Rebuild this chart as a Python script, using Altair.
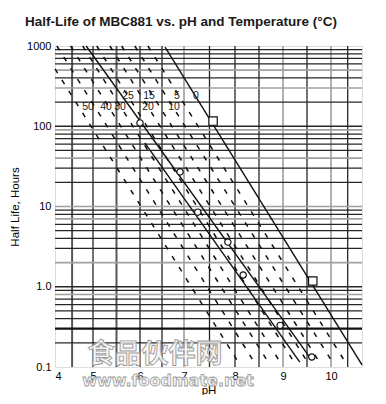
import altair as alt
import pandas as pd

# ---- axis values ----
ph_ticks = [4, 5, 6, 7, 8, 9, 10]
hl_ticks = [0.1, 1, 10, 100, 1000]
ph_breaks = [4, 5, 6, 7, 8, 9, 10, 10.65]
ph_break_px = [0, 38, 85, 129, 180, 228, 276, 307]

# ---- grid lines ----
vgrid_ph = [4.45, 5, 5.5, 6, 6.5, 7, 7.5, 8, 8.5, 9, 9.5, 10, 10.35]
vgrid_style = ["t", "d", "t", "d", "d", "g", "d", "d", "d", "g", "d", "g", "d"]

hgrid_hl = [900, 800, 700, 600, 500, 400, 300, 200, 100,
            90, 80, 70, 60, 50, 40, 30, 20, 10,
            9, 8, 7, 6, 5, 4, 3, 2, 1,
            0.9, 0.8, 0.7, 0.6, 0.5, 0.4, 0.3, 0.2]
hgrid_style = ["d", "d", "d", "d", "g", "d", "g", "d", "d",
               "g", "d", "d", "d", "d", "g", "d", "d", "g",
               "d", "d", "g", "d", "d", "d", "d", "g", "d",
               "d", "g", "d", "d", "d", "d", "k", "d"]

# ---- temperature (dashed) lines ----
dash_ph_start = [4.00, 4.05, 4.41, 4.73, 5.08, 5.36, 5.61, 5.89, 6.18]
dash_hl_start = [520, 1000, 1000, 1000, 1000, 1000, 1000, 1000, 1000]
dash_ph_end = [8.07, 8.40, 8.69, 8.94, 9.23, 9.51, 9.76, 10.03, 10.30]
dash_hl_end = [0.115, 0.115, 0.115, 0.115, 0.115, 0.115, 0.115, 0.115, 0.115]

# ---- solid lines ----
solid_ph_start = [4.82, 6.11, 6.57]
solid_hl_start = [1000, 62, 970]
solid_ph_end = [9.60, 9.35, 10.65]
solid_hl_end = [0.122, 0.115, 0.106]

# ---- measured points ----
circle_ph = [6.00, 6.91, 7.27, 7.86, 8.17, 8.94, 9.60]
circle_hl = [110, 27, 8.5, 3.6, 1.4, 0.33, 0.133]
square_ph = [7.57, 9.62]
square_hl = [116, 1.18]

# ---- temperature labels ----
temp_text = ["25", "15", "5", "0", "50", "40", "30", "20", "10"]
temp_ph = [5.745, 6.205, 6.841, 7.235, 4.868, 5.277, 5.574, 6.182, 6.773]
temp_hl = [238, 238, 238, 238, 174, 174, 174, 174, 174]

FONT = "Liberation Sans"

xscale = alt.Scale(domain=ph_breaks, range=ph_break_px, nice=False, zero=False)
yscale = alt.Scale(type="log", domain=[0.1, 1000], nice=False)

style_dom = ["d", "g", "t", "k"]
style_col = ["#262626", "#a0a0a0", "#555555", "#111111"]
style_w = [1.3, 2.3, 2.6, 2.8]


def seg_df(ps, hs, pe, he):
    rows = []
    for i in range(len(ps)):
        rows.append({"line": i, "ph": ps[i], "hl": hs[i]})
        rows.append({"line": i, "ph": pe[i], "hl": he[i]})
    return pd.DataFrame(rows)


X = alt.X("ph:Q", scale=xscale,
          axis=alt.Axis(values=ph_ticks, title="pH", grid=False, ticks=False, domain=False,
                        labelFontSize=11, labelPadding=3, titlePadding=3,
                        titleFontWeight="normal", titleFontSize=11.5))
Y = alt.Y("hl:Q", scale=yscale,
          axis=alt.Axis(values=hl_ticks, title="Half Life, Hours", grid=False, ticks=False,
                        domain=False, labelFontSize=11, labelPadding=4, titlePadding=6,
                        labelExpr="datum.value >= 10 ? format(datum.value, 'd') : format(datum.value, '.1f')",
                        titleFontWeight="normal", titleFontSize=11.5))

vgrid = alt.Chart(pd.DataFrame({"ph": vgrid_ph, "style": vgrid_style})).mark_rule().encode(
    x=X,
    color=alt.Color("style:N", scale=alt.Scale(domain=style_dom, range=style_col), legend=None),
    strokeWidth=alt.StrokeWidth("style:N", scale=alt.Scale(domain=style_dom, range=style_w), legend=None),
)
hgrid = alt.Chart(pd.DataFrame({"hl": hgrid_hl, "style": hgrid_style})).mark_rule().encode(
    y=Y,
    color=alt.Color("style:N", scale=alt.Scale(domain=style_dom, range=style_col), legend=None),
    strokeWidth=alt.StrokeWidth("style:N", scale=alt.Scale(domain=style_dom, range=style_w), legend=None),
)

dashed = alt.Chart(seg_df(dash_ph_start, dash_hl_start, dash_ph_end, dash_hl_end)).mark_line(
    color="#111111", strokeWidth=1.5, strokeDash=[5, 8]
).encode(x=X, y=Y, detail="line:N")

solid = alt.Chart(seg_df(solid_ph_start, solid_hl_start, solid_ph_end, solid_hl_end)).mark_line(
    color="#111111", strokeWidth=1.4
).encode(x=X, y=Y, detail="line:N")

circles = alt.Chart(pd.DataFrame({"ph": circle_ph, "hl": circle_hl})).mark_point(
    shape="circle", size=40, filled=True, fill="white", stroke="#111111", strokeWidth=1.2, opacity=1
).encode(x=X, y=Y)

squares = alt.Chart(pd.DataFrame({"ph": square_ph, "hl": square_hl})).mark_point(
    shape="square", size=70, filled=True, fill="white", stroke="#111111", strokeWidth=1.2, opacity=1
).encode(x=X, y=Y)

labels = alt.Chart(pd.DataFrame({"ph": temp_ph, "hl": temp_hl, "t": temp_text})).mark_text(
    font=FONT, fontSize=10.5, color="#1a1a1a", baseline="middle", align="center"
).encode(x=X, y=Y, text="t:N")

wm = pd.DataFrame({"t": ["食品伙伴网"]})
wm2 = pd.DataFrame({"t": ["www.foodmate.net"]})
water1 = alt.Chart(wm).mark_text(
    font="Noto Sans CJK SC", fontSize=27, fontWeight="bold", fill="#f6f6f6", stroke="#9a9a9a",
    strokeWidth=0.9, fillOpacity=0.8, align="center", baseline="middle"
).encode(x=alt.value(100), y=alt.value(309), text="t:N")
water2 = alt.Chart(wm2).mark_text(
    font="DejaVu Sans", fontSize=16, fontWeight="bold", fill="#f6f6f6", stroke="#9a9a9a",
    strokeWidth=0.8, fillOpacity=0.8, align="center", baseline="middle"
).encode(x=alt.value(113), y=alt.value(335), text="t:N")

chart = alt.layer(vgrid, hgrid, dashed, solid, circles, squares, labels, water1, water2).properties(
    width=307, height=321,
    title=alt.TitleParams("Half-Life of MBC881 vs. pH and Temperature (°C)", anchor="start", frame="group",
                          dx=-30, offset=12, fontSize=13.5, font=FONT, fontWeight="bold", color="#1a1a1a"),
    autosize=alt.AutoSizeParams(type="none"),
    padding={"left": 47, "top": 38, "right": 16, "bottom": 28},
).configure_view(stroke="#111111", strokeWidth=1.5).configure_axis(
    labelFont=FONT, titleFont=FONT, labelColor="#1a1a1a", titleColor="#1a1a1a"
).configure(background="white")

chart.save("out.html", embed_options={"renderer": "svg", "actions": False})
